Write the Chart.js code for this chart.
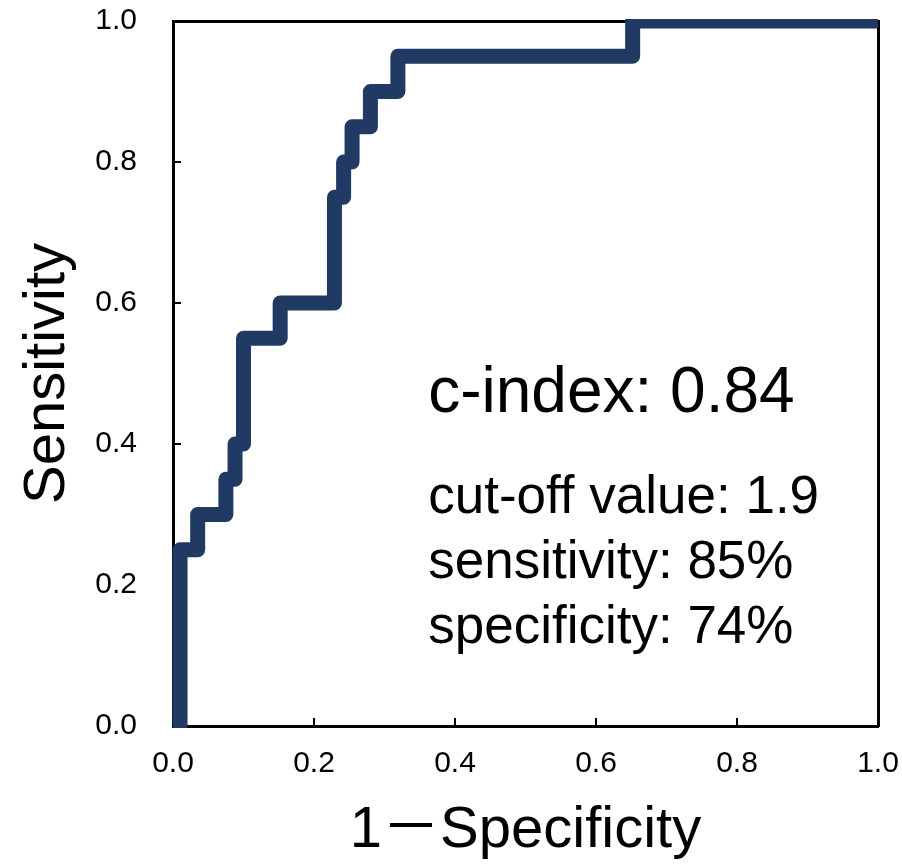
<!DOCTYPE html>
<html lang="ja">
<head>
    <meta charset="UTF-8">
    <title>ROC curve</title>
    <script src="https://cdn.jsdelivr.net/npm/chart.js"></script>
    <style>
        html, body { margin: 0; padding: 0; background: #fff; }
        #wrap { width: 902px; height: 866px; }
    </style>
</head>
<body>
<div id="wrap"><canvas id="rocChart"></canvas></div>
<script>
    // ROC curve points: 1 - specificity (x) and sensitivity (y)
    const fpr = [0, 0.01, 0.035, 0.075, 0.088, 0.10, 0.152, 0.229, 0.242, 0.254, 0.28, 0.319, 0.652, 1.0];
    const tpr = [0, 0.25, 0.30, 0.35, 0.40, 0.55, 0.60, 0.75, 0.80, 0.85, 0.90, 0.95, 1.0, 1.0];

    const cIndexText = 'c-index: 0.84';
    const statsLines = ['cut-off value: 1.9', 'sensitivity: 85%', 'specificity: 74%'];

    const FONT = '"Liberation Sans", Arial, "Noto Sans CJK JP", sans-serif';
    const LINE_COLOR = '#213a64';

    // Summary text inside the plot area
    const statsText = {
        id: 'statsText',
        afterDatasetsDraw(chart) {
            const { ctx, scales: { x, y } } = chart;
            const left = x.getPixelForValue(0.362);
            ctx.save();
            ctx.fillStyle = '#000';
            ctx.textAlign = 'left';
            ctx.textBaseline = 'alphabetic';
            ctx.font = '64px ' + FONT;
            ctx.fillText(cIndexText, left, y.getPixelForValue(0.445));
            ctx.font = '53px ' + FONT;
            let base = y.getPixelForValue(0.302);
            statsLines.forEach(line => {
                ctx.fillText(line, left, base);
                base += 65;
            });
            ctx.restore();
        }
    };

    // no extra room for overhanging first/last tick labels
    const noMargins = (scale) => {
        scale.paddingLeft = 0;
        scale.paddingRight = 0;
        scale.paddingTop = 0;
        scale.paddingBottom = 0;
    };

    // top and right edges of the frame
    const frameAxis = (position) => ({
        type: 'linear',
        position: position,
        min: 0,
        max: 1,
        ticks: { display: false },
        grid: { display: false },
        border: { display: true, color: '#000', width: 3 },
        afterFit: (scale) => {
            if (position === 'top') scale.height = 0; else scale.width = 0;
            noMargins(scale);
        }
    });

    const ctx = document.getElementById('rocChart');
    new Chart(ctx, {
        type: 'line',
        data: {
            datasets: [{
                data: fpr.map((v, i) => ({ x: v, y: tpr[i] })),
                borderColor: LINE_COLOR,
                borderWidth: 15,
                borderJoinStyle: 'round',
                borderCapStyle: 'butt',
                stepped: 'before',
                pointRadius: 0,
                fill: false,
                clip: 2
            }]
        },
        options: {
            responsive: true,
            maintainAspectRatio: false,
            animation: false,
            layout: { padding: { top: 21, right: 24, left: 0, bottom: 0 } },
            plugins: {
                legend: { display: false },
                tooltip: { enabled: false }
            },
            scales: {
                x: {
                    type: 'linear',
                    min: 0,
                    max: 1,
                    ticks: {
                        stepSize: 0.2,
                        padding: 28,
                        color: '#000',
                        font: { family: FONT, size: 30 },
                        maxRotation: 0,
                        callback: v => v.toFixed(1)
                    },
                    grid: { drawOnChartArea: false, tickLength: -8, color: '#000', lineWidth: 2 },
                    border: { color: '#000', width: 3 },
                    title: {
                        display: true,
                        text: '1－Specificity',
                        color: '#000',
                        font: { family: FONT, size: 58 },
                        padding: { top: 0, bottom: 0 }
                    },
                    afterFit: (scale) => {
                        scale.height = 140;
                        noMargins(scale);
                    }
                },
                y: {
                    type: 'linear',
                    min: 0,
                    max: 1,
                    ticks: {
                        stepSize: 0.2,
                        padding: 44,
                        color: '#000',
                        font: { family: FONT, size: 30 },
                        callback: v => v.toFixed(1)
                    },
                    grid: { drawOnChartArea: false, tickLength: -8, color: '#000', lineWidth: 2 },
                    border: { color: '#000', width: 3 },
                    title: {
                        display: true,
                        text: 'Sensitivity',
                        color: '#000',
                        font: { family: FONT, size: 58 },
                        padding: { top: 13, bottom: 0 }
                    },
                    afterFit: (scale) => {
                        scale.width = 173;
                        noMargins(scale);
                    }
                },
                xTop: frameAxis('top'),
                yRight: frameAxis('right')
            }
        },
        plugins: [statsText]
    });
</script>
</body>
</html>
